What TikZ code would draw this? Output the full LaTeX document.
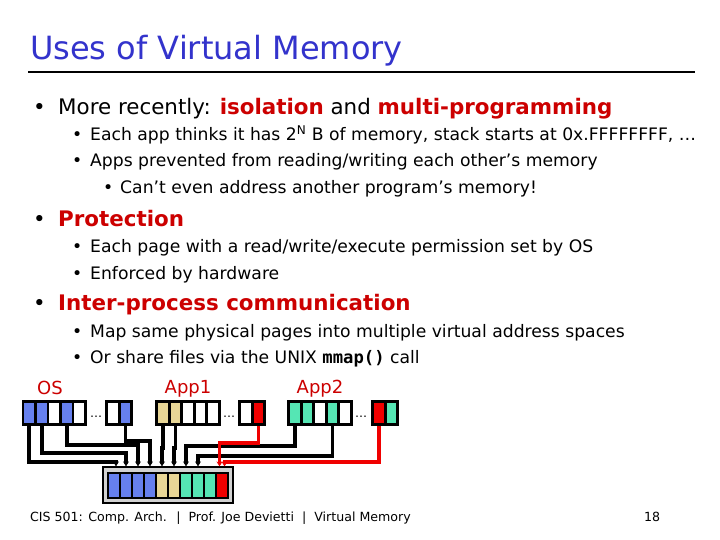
\documentclass[tikz,border=0pt]{standalone}
\usepackage{fontspec}
\setmainfont{DejaVu Sans}
\setmonofont{DejaVu Sans Mono}
\usetikzlibrary{arrows.meta}
\definecolor{tblue}{RGB}{51,51,204}
\definecolor{tred}{RGB}{204,0,0}
\definecolor{cb}{RGB}{102,128,238}
\definecolor{ct}{RGB}{232,214,150}
\definecolor{cg}{RGB}{85,230,180}
\definecolor{cw}{RGB}{255,255,255}
\definecolor{cr}{RGB}{240,0,0}
\begin{document}
\begin{tikzpicture}[x=1pt,y=-1pt,
  cell/.style={draw=black,line width=2.6pt,minimum width=12.5pt,minimum height=23pt,inner sep=0pt},
  pcell/.style={draw=black,line width=2pt,minimum width=12pt,minimum height=25pt,inner sep=0pt},
  wire/.style={line width=3.6pt,-{Stealth[length=5pt,width=6pt]}},
  rwire/.style={wire,draw=cr,color=cr},
  l1/.style={anchor=base west,inner sep=0pt,font=\fontsize{21.4}{25}\selectfont},
  l2/.style={anchor=base west,inner sep=0pt,font=\fontsize{17.2}{20}\selectfont},
  lab/.style={anchor=base,inner sep=0pt,text=tred,font=\fontsize{18}{20}\selectfont}]
\useasboundingbox (0,0) rectangle (720,540);
\fill[white] (0,0) rectangle (720,540);
\node[anchor=base west,inner sep=0pt,text=tblue,font=\fontsize{32}{36}\selectfont] (title) at (30,60) {Uses of Virtual Memory};
\draw[line width=2.5pt] (28,72) -- (695,72) coordinate (ul);
\node[l1] (b1) at (33,115) {•};
\node[l1] (t1) at (58,115) {More recently: \textcolor{tred}{\textbf{isolation}} and \textcolor{tred}{\textbf{multi-programming}}};
\node[l2] (b11) at (72,141) {•};
\node[l2] (t11) at (90,141) {Each app thinks it has 2\textsuperscript{N} B of memory, stack starts at 0x.FFFFFFFF, …};
\node[l2] (b12) at (72,167) {•};
\node[l2] (t12) at (90,167) {Apps prevented from reading/writing each other’s memory};
\node[l2] (b13) at (103,194) {•};
\node[l2] (t13) at (120,194) {Can’t even address another program’s memory!};
\node[l1] (b2) at (33,226) {•};
\node[l1] (t2) at (58,226) {\textcolor{tred}{\textbf{Protection}}};
\node[l2] (b21) at (72,252) {•};
\node[l2] (t21) at (90,252) {Each page with a read/write/execute permission set by OS};
\node[l2] (b22) at (72,279) {•};
\node[l2] (t22) at (90,279) {Enforced by hardware};
\node[l1] (b3) at (33,310) {•};
\node[l1] (t3) at (58,310) {\textcolor{tred}{\textbf{Inter-process communication}}};
\node[l2] (b31) at (72,337) {•};
\node[l2] (t31) at (90,337) {Map same physical pages into multiple virtual address spaces};
\node[l2] (b32) at (72,363) {•};
\node[l2] (t32) at (90,363) {Or share files via the UNIX \texttt{\textbf{mmap()}} call};
% labels
\node[lab] (los) at (50,394) {OS};
\node[lab] (lapp1) at (188,393) {App1};
\node[lab] (lapp2) at (320,393) {App2};
% virtual cells
\foreach \c [count=\i from 0] in {cb,cb,cw,cb,cw} \node[cell,fill=\c] (os\i) at (29.25+\i*12.5,413) {};
\foreach \c [count=\i from 0] in {cw,cb} \node[cell,fill=\c] (osp\i) at (113+\i*12.5,413) {};
\foreach \c [count=\i from 0] in {ct,ct,cw,cw,cw} \node[cell,fill=\c] (aa\i) at (163+\i*12.5,413) {};
\foreach \c [count=\i from 0] in {cw,cr} \node[cell,fill=\c] (aap\i) at (246+\i*12.5,413) {};
\foreach \c [count=\i from 0] in {cg,cg,cw,cg,cw} \node[cell,fill=\c] (ab\i) at (295+\i*12.5,413) {};
\foreach \c [count=\i from 0] in {cr,cg} \node[cell,fill=\c] (abp\i) at (379+\i*12.5,413) {};
\node[inner sep=0pt,font=\fontsize{12}{12}\selectfont] (d1) at (96,417) {…};
\node[inner sep=0pt,font=\fontsize{12}{12}\selectfont] (d2) at (229,417) {…};
\node[inner sep=0pt,font=\fontsize{12}{12}\selectfont] (d3) at (361,417) {…};
% physical
\node[draw=black,fill=gray!35,line width=1.2pt,minimum width=130pt,minimum height=36pt,inner sep=0pt] (phys) at (168,485) {};
\foreach \c [count=\i from 0] in {cb,cb,cb,cb,ct,ct,cg,cg,cg,cr} \node[pcell,fill=\c] (p\i) at (114+\i*12,485.5) {};
% wires
\draw[wire] (os0.south) -- (os0.south |- 0,462) -| ([xshift=2pt]p0.north |- phys.north);
\draw[wire] (os1.south) -- (os1.south |- 0,453) -| ([xshift=0pt]p1.north |- phys.north);
\draw[wire] (os3.south) -- (os3.south |- 0,445) -| (p2.north |- phys.north);
\draw[wire] (osp1.south) -- (osp1.south |- 0,441) -| (p3.north |- phys.north);
\draw[wire] (aa0.south) -- (aa0.south |- 0,448) -| (p4.north |- phys.north);
\draw[wire] (aa1.south) -- (aa1.south |- 0,448) -| (p5.north |- phys.north);
\draw[wire] (ab0.south) -- (ab0.south |- 0,446) -| (p6.north |- phys.north);
\draw[wire] (ab3.south) -- (ab3.south |- 0,456) -| (p7.north |- phys.north);
\draw[rwire] (aap1.south) -- (aap1.south |- 0,443) -| ([xshift=-2.5pt]p9.north |- phys.north);
\draw[rwire] (abp0.south) -- (abp0.south |- 0,462) -| ([xshift=2.5pt]p9.north |- phys.north);
% footer
\node[anchor=base west,inner sep=0pt,font=\fontsize{12.6}{14}\selectfont] (foot) at (30,521) {CIS 501: Comp. Arch. \ | \ Prof. Joe Devietti \ | \ Virtual Memory};
\node[anchor=base west,inner sep=0pt,font=\fontsize{12.6}{14}\selectfont] (pg) at (644,521) {18};
\end{tikzpicture}
\end{document}
